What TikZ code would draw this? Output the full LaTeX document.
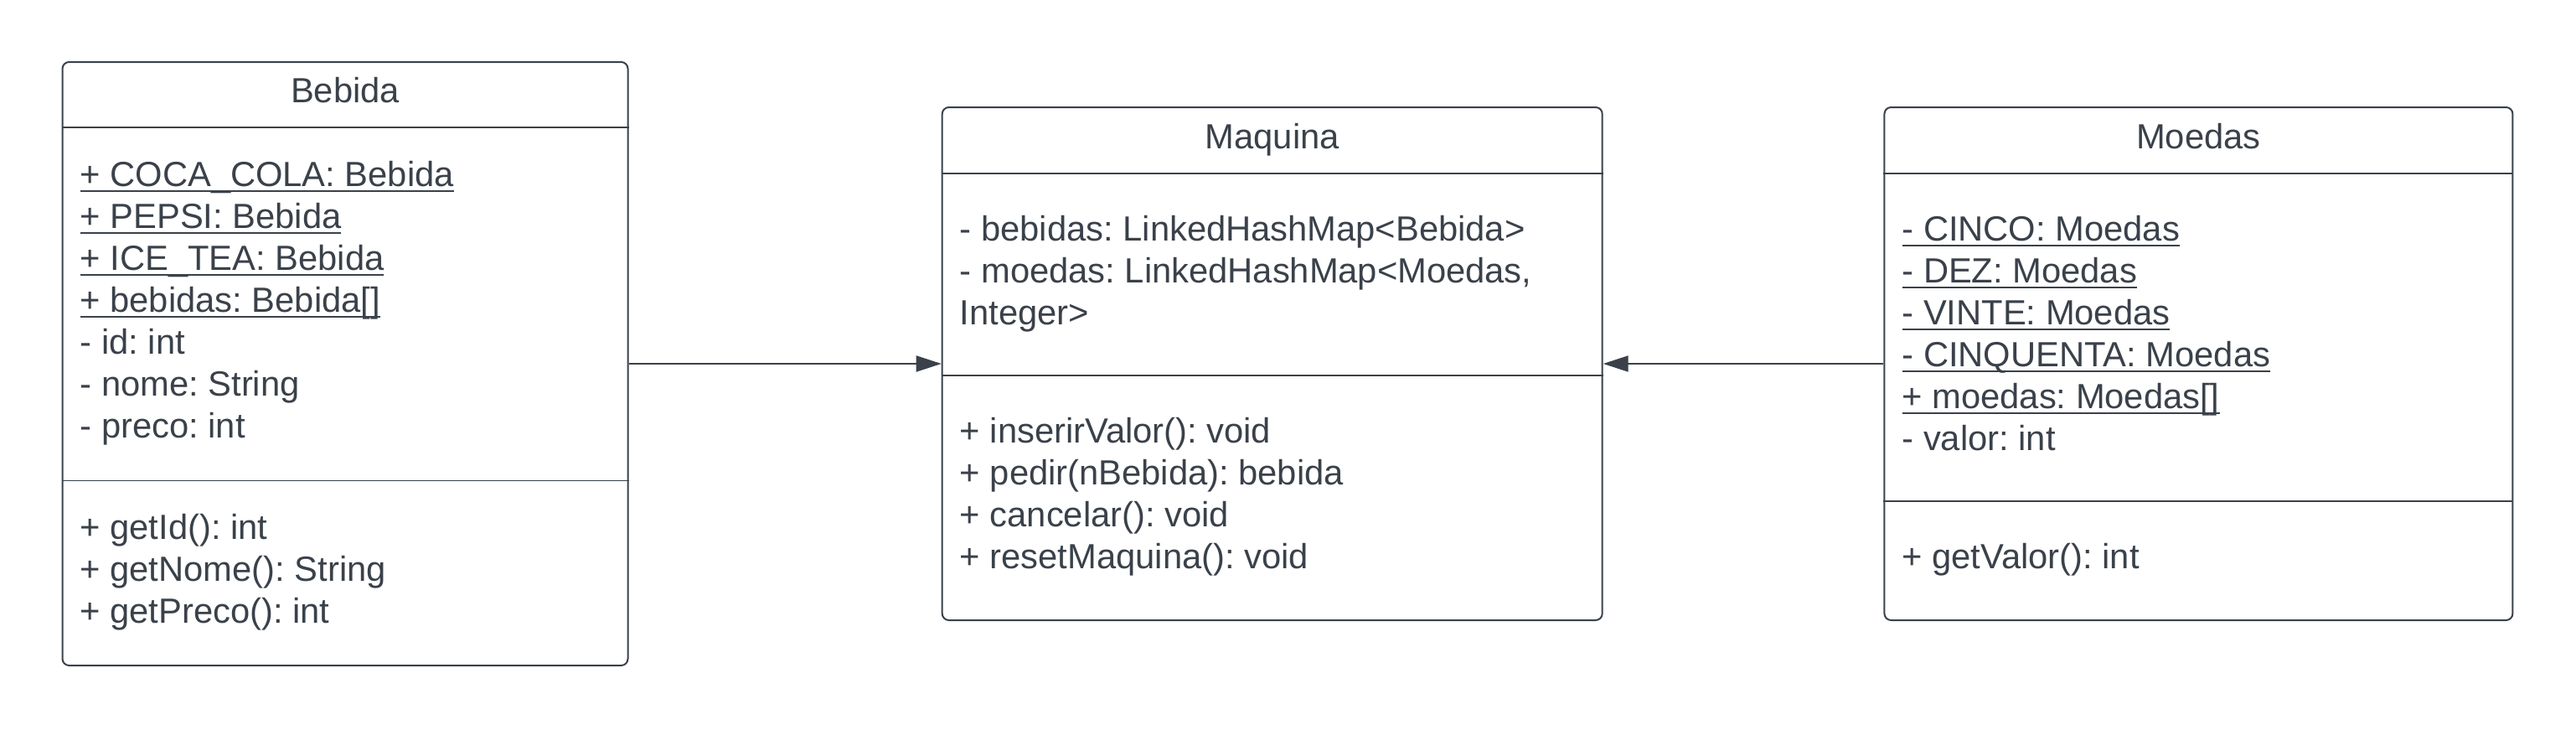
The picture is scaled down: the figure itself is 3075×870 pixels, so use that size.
\documentclass[tikz,border=0pt]{standalone}
\usepackage{fontspec}
\setmainfont{Liberation Sans}
\usetikzlibrary{arrows.meta}
\definecolor{umlgray}{RGB}{58,65,74}
\frenchspacing
\newcommand{\umlfont}{\fontsize{41.7pt}{50pt}\selectfont}
\newcommand{\lstrut}{\rule[-15pt]{0pt}{50pt}}
\newcommand{\staticattr}[1]{\setbox0\hbox{#1}\rlap{\rule[-6pt]{\wd0}{2pt}}\box0}
\begin{document}
\begin{tikzpicture}[x=1pt,y=-1pt,
		class frame/.style={draw=umlgray,line width=2pt,rounded corners=8pt,inner sep=0pt},
		divider/.style={draw=umlgray,line width=#1},
		class name/.style={inner sep=0pt,text=umlgray,font=\umlfont},
		members/.style={anchor=west,align=left,inner sep=0pt,text=umlgray,font=\umlfont},
		assoc/.style={draw=umlgray,line width=2pt,-{Triangle[length=30pt,width=19pt]}}]
	\useasboundingbox (0,0) rectangle (3075,870);
	
	% frames
	\node[class frame,minimum width=675pt,minimum height=720pt]		(Bebida)	at (412,434)		{};
	\node[class frame,minimum width=788pt,minimum height=612pt]		(Maquina)	at (1518.7,434)		{};
	\node[class frame,minimum width=750pt,minimum height=612pt]		(Moedas)	at (2624.4,434)		{};
	
	% Bebida
	\draw[divider=2pt]		([yshift=-79.1pt]Bebida.north west)		-- ([yshift=-79.1pt]Bebida.north east);
	\draw[divider=1.6pt]	([yshift=-500.3pt]Bebida.north west)	-- ([yshift=-500.3pt]Bebida.north east);
	\node[class name]	(Bebida name)		at ([yshift=-39.5pt]Bebida.north)	{\lstrut Bebida};
	\node[members]		(Bebida attrs)		at ([xshift=22pt,yshift=-289.7pt]Bebida.north west)
		{\lstrut\staticattr{+ COCA\_COLA: Bebida}\\
		 \lstrut\staticattr{+ PEPSI: Bebida}\\
		 \lstrut\staticattr{+ ICE\_TEA: Bebida}\\
		 \lstrut\staticattr{+ bebidas: Bebida[]}\\
		 \lstrut- id: int\\
		 \lstrut- nome: String\\
		 \lstrut- preco: int};
	\node[members]		(Bebida ops)		at ([xshift=22pt,yshift=-610.1pt]Bebida.north west)
		{\lstrut+ getId(): int\\
		 \lstrut+ getNome(): String\\
		 \lstrut+ getPreco(): int};
	
	% Maquina
	\draw[divider=2pt]		([yshift=-80.1pt]Maquina.north west)	-- ([yshift=-80.1pt]Maquina.north east);
	\draw[divider=1.6pt]	([yshift=-320.7pt]Maquina.north west)	-- ([yshift=-320.7pt]Maquina.north east);
	\node[class name]	(Maquina name)		at ([yshift=-40pt]Maquina.north)	{\lstrut Maquina};
	\node[members]		(Maquina attrs)		at ([xshift=22pt,yshift=-200.4pt]Maquina.north west)
		{\lstrut- bebidas: LinkedHashMap<Bebida>\\
		 \lstrut- moedas: LinkedHashMap<Moedas,\\
		 \lstrut Integer>};
	\node[members]		(Maquina ops)		at ([xshift=22pt,yshift=-466.2pt]Maquina.north west)
		{\lstrut+ inserirValor(): void\\
		 \lstrut+ pedir(nBebida): bebida\\
		 \lstrut+ cancelar(): void\\
		 \lstrut+ resetMaquina(): void};
	
	% Moedas
	\draw[divider=2pt]		([yshift=-80.1pt]Moedas.north west)		-- ([yshift=-80.1pt]Moedas.north east);
	\draw[divider=1.6pt]	([yshift=-470.9pt]Moedas.north west)	-- ([yshift=-470.9pt]Moedas.north east);
	\node[class name]	(Moedas name)		at ([yshift=-40pt]Moedas.north)		{\lstrut Moedas};
	\node[members]		(Moedas attrs)		at ([xshift=22pt,yshift=-275.5pt]Moedas.north west)
		{\lstrut\staticattr{- CINCO: Moedas}\\
		 \lstrut\staticattr{- DEZ: Moedas}\\
		 \lstrut\staticattr{- VINTE: Moedas}\\
		 \lstrut\staticattr{- CINQUENTA: Moedas}\\
		 \lstrut\staticattr{+ moedas: Moedas[]}\\
		 \lstrut- valor: int};
	\node[members]		(Moedas ops)		at ([xshift=22pt,yshift=-541.1pt]Moedas.north west)
		{\lstrut+ getValor(): int};
	
	% associations
	\path
		(Bebida)	edge [assoc]	(Maquina)
		(Moedas)	edge [assoc]	(Maquina);
\end{tikzpicture}
\end{document}
